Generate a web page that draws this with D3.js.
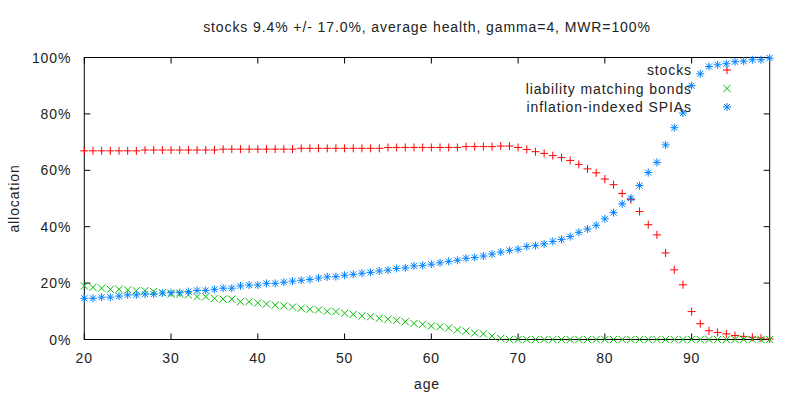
<!DOCTYPE html>
<html><head><meta charset="utf-8">
<script src="https://cdn.jsdelivr.net/npm/d3@7"></script>
<style>body{margin:0;background:#fff}svg{display:block}text{font-family:"Liberation Sans",Arial,sans-serif;fill:#222;letter-spacing:0.9px}</style>
</head><body><svg id="c" width="800" height="400"></svg>
<script>
const title = "stocks 9.4% +/- 17.0%, average health, gamma=4, MWR=100%";
const ages = d3.range(20, 100);
const stocks = [66.9,66.9,66.9,66.9,66.9,66.9,66.9,67.2,67.2,67.2,
  67.2,67.2,67.2,67.2,67.2,67.2,67.5,67.5,67.5,67.5,
  67.5,67.5,67.5,67.5,67.5,67.8,67.8,67.8,67.8,67.8,
  67.8,67.8,67.8,67.8,67.8,68.1,68.1,68.1,68.1,68.1,
  68.1,68.1,68.1,68.1,68.4,68.4,68.4,68.4,68.6,68.6,
  68.1,67.4,66.6,66.0,65.2,64.5,63.5,62.1,60.5,59.1,
  56.9,54.9,51.8,49.6,45.4,40.7,37.1,30.7,24.7,19.4,
  9.9,5.6,3.1,2.5,2.0,1.4,1.1,0.8,0.5,0.2];
const bonds = [19.0,18.5,18.2,17.8,17.8,17.6,17.3,17.3,17.0,16.6,
  16.1,16.1,15.8,15.2,15.2,14.6,14.3,14.3,13.4,13.4,
  13.0,12.6,12.2,11.9,11.5,11.1,10.7,10.5,10.0,9.9,
  9.3,8.9,8.4,8.1,7.5,7.2,6.8,6.3,5.7,5.4,
  4.8,4.5,4.1,3.4,3.0,2.3,2.0,1.2,0.4,0,
  0,0,0,0,0,0,0,0,0,0,0,0,0,0,0,0,0,0,0,0,
  0,0,0,0,0,0,0,0,0,0];
const spias = [14.6,14.6,15.0,15.0,15.4,15.8,15.8,16.1,16.1,16.5,
  16.6,16.6,17.0,17.4,17.4,17.8,18.2,18.2,19.0,19.3,
  19.3,19.9,19.9,20.3,20.7,21.0,21.3,21.8,22.2,22.3,
  22.8,23.1,23.5,23.8,24.3,24.6,25.2,25.4,26.1,26.3,
  26.7,27.2,27.7,28.1,28.8,29.1,29.6,30.3,31.0,31.6,
  32.0,33.0,33.3,33.9,34.8,35.5,36.5,38.0,39.2,40.5,
  42.8,45.0,48.1,50.1,54.6,59.2,62.8,69.0,75.1,80.3,
  90.0,94.2,96.8,97.4,97.8,98.5,98.7,99.2,99.2,99.8];
const seriesNames = ["stocks","liability matching bonds","inflation-indexed SPIAs"];
const colors = ["#ff0000","#00c000","#0080ff"];
const xTicks = [20,30,40,50,60,70,80,90];
const yTicks = [0,20,40,60,80,100];

const svg = d3.select("#c");
const L=84.3, R=769.7, T=57.5, B=339.5;
const x = d3.scaleLinear().domain([20,99]).range([L,R]);
const y = d3.scaleLinear().domain([0,100]).range([B,T]);

function marker(g, type, cx, cy, col){
  const s=4;
  const p = d3.path();
  if(type===0||type===2){p.moveTo(cx-s,cy);p.lineTo(cx+s,cy);p.moveTo(cx,cy-s);p.lineTo(cx,cy+s);}
  if(type===1||type===2){const t=type===2?3:3.6;p.moveTo(cx-t,cy-t);p.lineTo(cx+t,cy+t);p.moveTo(cx-t,cy+t);p.lineTo(cx+t,cy-t);}
  g.append("path").attr("d",p.toString()).attr("stroke",col).attr("stroke-width",1).attr("fill","none");
}

const axG = svg.append("g").attr("stroke","#000").attr("stroke-width",1);
xTicks.forEach(t=>{
  axG.append("line").attr("x1",x(t)).attr("x2",x(t)).attr("y1",B).attr("y2",B-6);
  axG.append("line").attr("x1",x(t)).attr("x2",x(t)).attr("y1",T).attr("y2",T+6);
});
yTicks.forEach(t=>{
  axG.append("line").attr("x1",L).attr("x2",L+6).attr("y1",y(t)).attr("y2",y(t));
  axG.append("line").attr("x1",R).attr("x2",R-6).attr("y1",y(t)).attr("y2",y(t));
});
axG.append("rect").attr("x",L).attr("y",T).attr("width",R-L).attr("height",B-T).attr("fill","none");

const fs = "14px";
svg.append("g").selectAll("text").data(xTicks).join("text")
  .attr("x",d=>x(d)).attr("y",B+23).attr("text-anchor","middle").style("font-size",fs).text(d=>d);
svg.append("g").selectAll("text").data(yTicks).join("text")
  .attr("x",L-13).attr("y",d=>y(d)+5).attr("text-anchor","end").style("font-size",fs).text(d=>d+"%");

svg.append("text").attr("x",(L+R)/2).attr("y",32).attr("text-anchor","middle").style("font-size",fs).text(title);
svg.append("text").attr("x",(L+R)/2).attr("y",389).attr("text-anchor","middle").style("font-size",fs).text("age");
svg.append("text").attr("transform","translate(19,"+((T+B)/2)+") rotate(-90)").attr("text-anchor","middle").style("font-size",fs).text("allocation");

const data = [stocks,bonds,spias];
data.forEach((vals,si)=>{
  const g = svg.append("g");
  const ly = 70 + si*18.5;
  svg.append("text").attr("x",692).attr("y",ly+5).attr("text-anchor","end").style("font-size",fs).text(seriesNames[si]);
  marker(g, si, 727, ly, colors[si]);
  ages.forEach((a,i)=>marker(g, si, x(a), y(vals[i]), colors[si]));
});
</script></body></html>
